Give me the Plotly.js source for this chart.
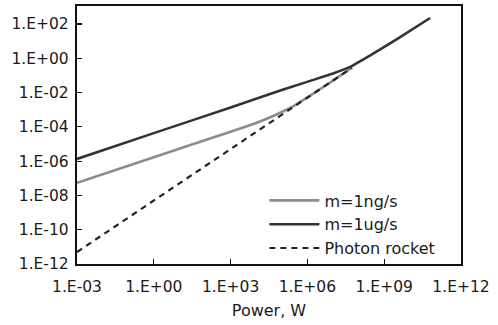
<!DOCTYPE html>
<html>
<head>
<meta charset="utf-8">
<script src="https://cdn.plot.ly/plotly-3.0.1.min.js"></script>
<style>html,body{margin:0;padding:0;background:#fff;}#chart{width:498px;height:325px;}</style>
</head>
<body>
<div id="chart"></div>
<script>
// Values (log-log)
const powerUg = [1e-3, 1, 1e3, 1e5, 1e7, 3.2e7, 5.6e7, 1e8, 3.2e8, 4.2e9, 6.2e10];
const thrustUg = [1.35e-6, 4.3e-5, 1.35e-3, 1.4e-2, 0.13, 0.25, 0.36, 0.6, 1.65, 17, 224];

const powerNg = [1e-3, 1, 1e3, 1e4, 3.2e4, 1e5, 3.2e5, 1e6, 1e7, 5.5e7];
const thrustNg = [5.4e-8, 1.7e-6, 5.2e-5, 1.7e-4, 3.4e-4, 7.4e-4, 1.8e-3, 5.2e-3, 0.05, 0.28];

const powerPhoton = [1e-3, 1, 1e3, 1e6, 5.5e7];
const thrustPhoton = [5e-12, 5e-9, 5e-6, 5e-3, 0.28];

const xTickVals = [1e-3, 1, 1e3, 1e6, 1e9, 1e12];
const xTickText = ["1.E-03", "1.E+00", "1.E+03", "1.E+06", "1.E+09", "1.E+12"];
const yTickVals = [1e-12, 1e-10, 1e-8, 1e-6, 1e-4, 1e-2, 1, 1e2];
const yTickText = ["1.E-12", "1.E-10", "1.E-08", "1.E-06", "1.E-04", "1.E-02", "1.E+00", "1.E+02"];

const seriesNames = ["m=1ng/s", "m=1ug/s", "Photon rocket"];

const FONT = "DejaVu Sans, Liberation Sans, sans-serif";

const traces = [
  {x: powerNg, y: thrustNg, name: seriesNames[0], mode: "lines",
   line: {color: "#8c8c8c", width: 2.6, shape: "spline", smoothing: 0.4}},
  {x: powerUg, y: thrustUg, name: seriesNames[1], mode: "lines",
   line: {color: "#333333", width: 2.6, shape: "spline", smoothing: 0.4}},
  {x: powerPhoton, y: thrustPhoton, name: seriesNames[2], mode: "lines",
   line: {color: "#222222", width: 2.2, dash: "6px,5px"}}
];

const layout = {
  width: 498, height: 325,
  margin: {l: 77, r: 37, t: 6, b: 61},
  paper_bgcolor: "#ffffff", plot_bgcolor: "#ffffff",
  font: {family: FONT, size: 15.5, color: "#1a1a1a"},
  showlegend: true,
  legend: {x: 0.488, y: 0.312, xanchor: "left", yanchor: "top",
           bgcolor: "rgba(0,0,0,0)", font: {family: FONT, size: 16, color: "#1a1a1a"},
           itemwidth: 50, tracegroupgap: 0},
  xaxis: {type: "log", range: [-3, 12], tickvals: xTickVals, ticktext: xTickText,
          showgrid: false, zeroline: false, showline: true, mirror: true,
          linecolor: "#111", linewidth: 2.2, ticks: "inside", ticklen: 5, tickwidth: 1.2,
          tickcolor: "#111", ticklabelstandoff: 7,
          tickfont: {family: FONT, size: 15.5, color: "#1a1a1a"},
          title: {text: "Power, W", font: {family: FONT, size: 16, color: "#1a1a1a"}, standoff: 10}},
  yaxis: {type: "log", range: [-12, 3.05], tickvals: yTickVals, ticktext: yTickText,
          showgrid: false, zeroline: false, showline: true, mirror: true,
          linecolor: "#111", linewidth: 2.2, ticks: "inside", ticklen: 5, tickwidth: 1.2,
          tickcolor: "#111", ticklabelstandoff: 3,
          tickfont: {family: FONT, size: 15.5, color: "#1a1a1a"}}
};

Plotly.newPlot("chart", traces, layout, {displayModeBar: false, staticPlot: true});
</script>
</body>
</html>
